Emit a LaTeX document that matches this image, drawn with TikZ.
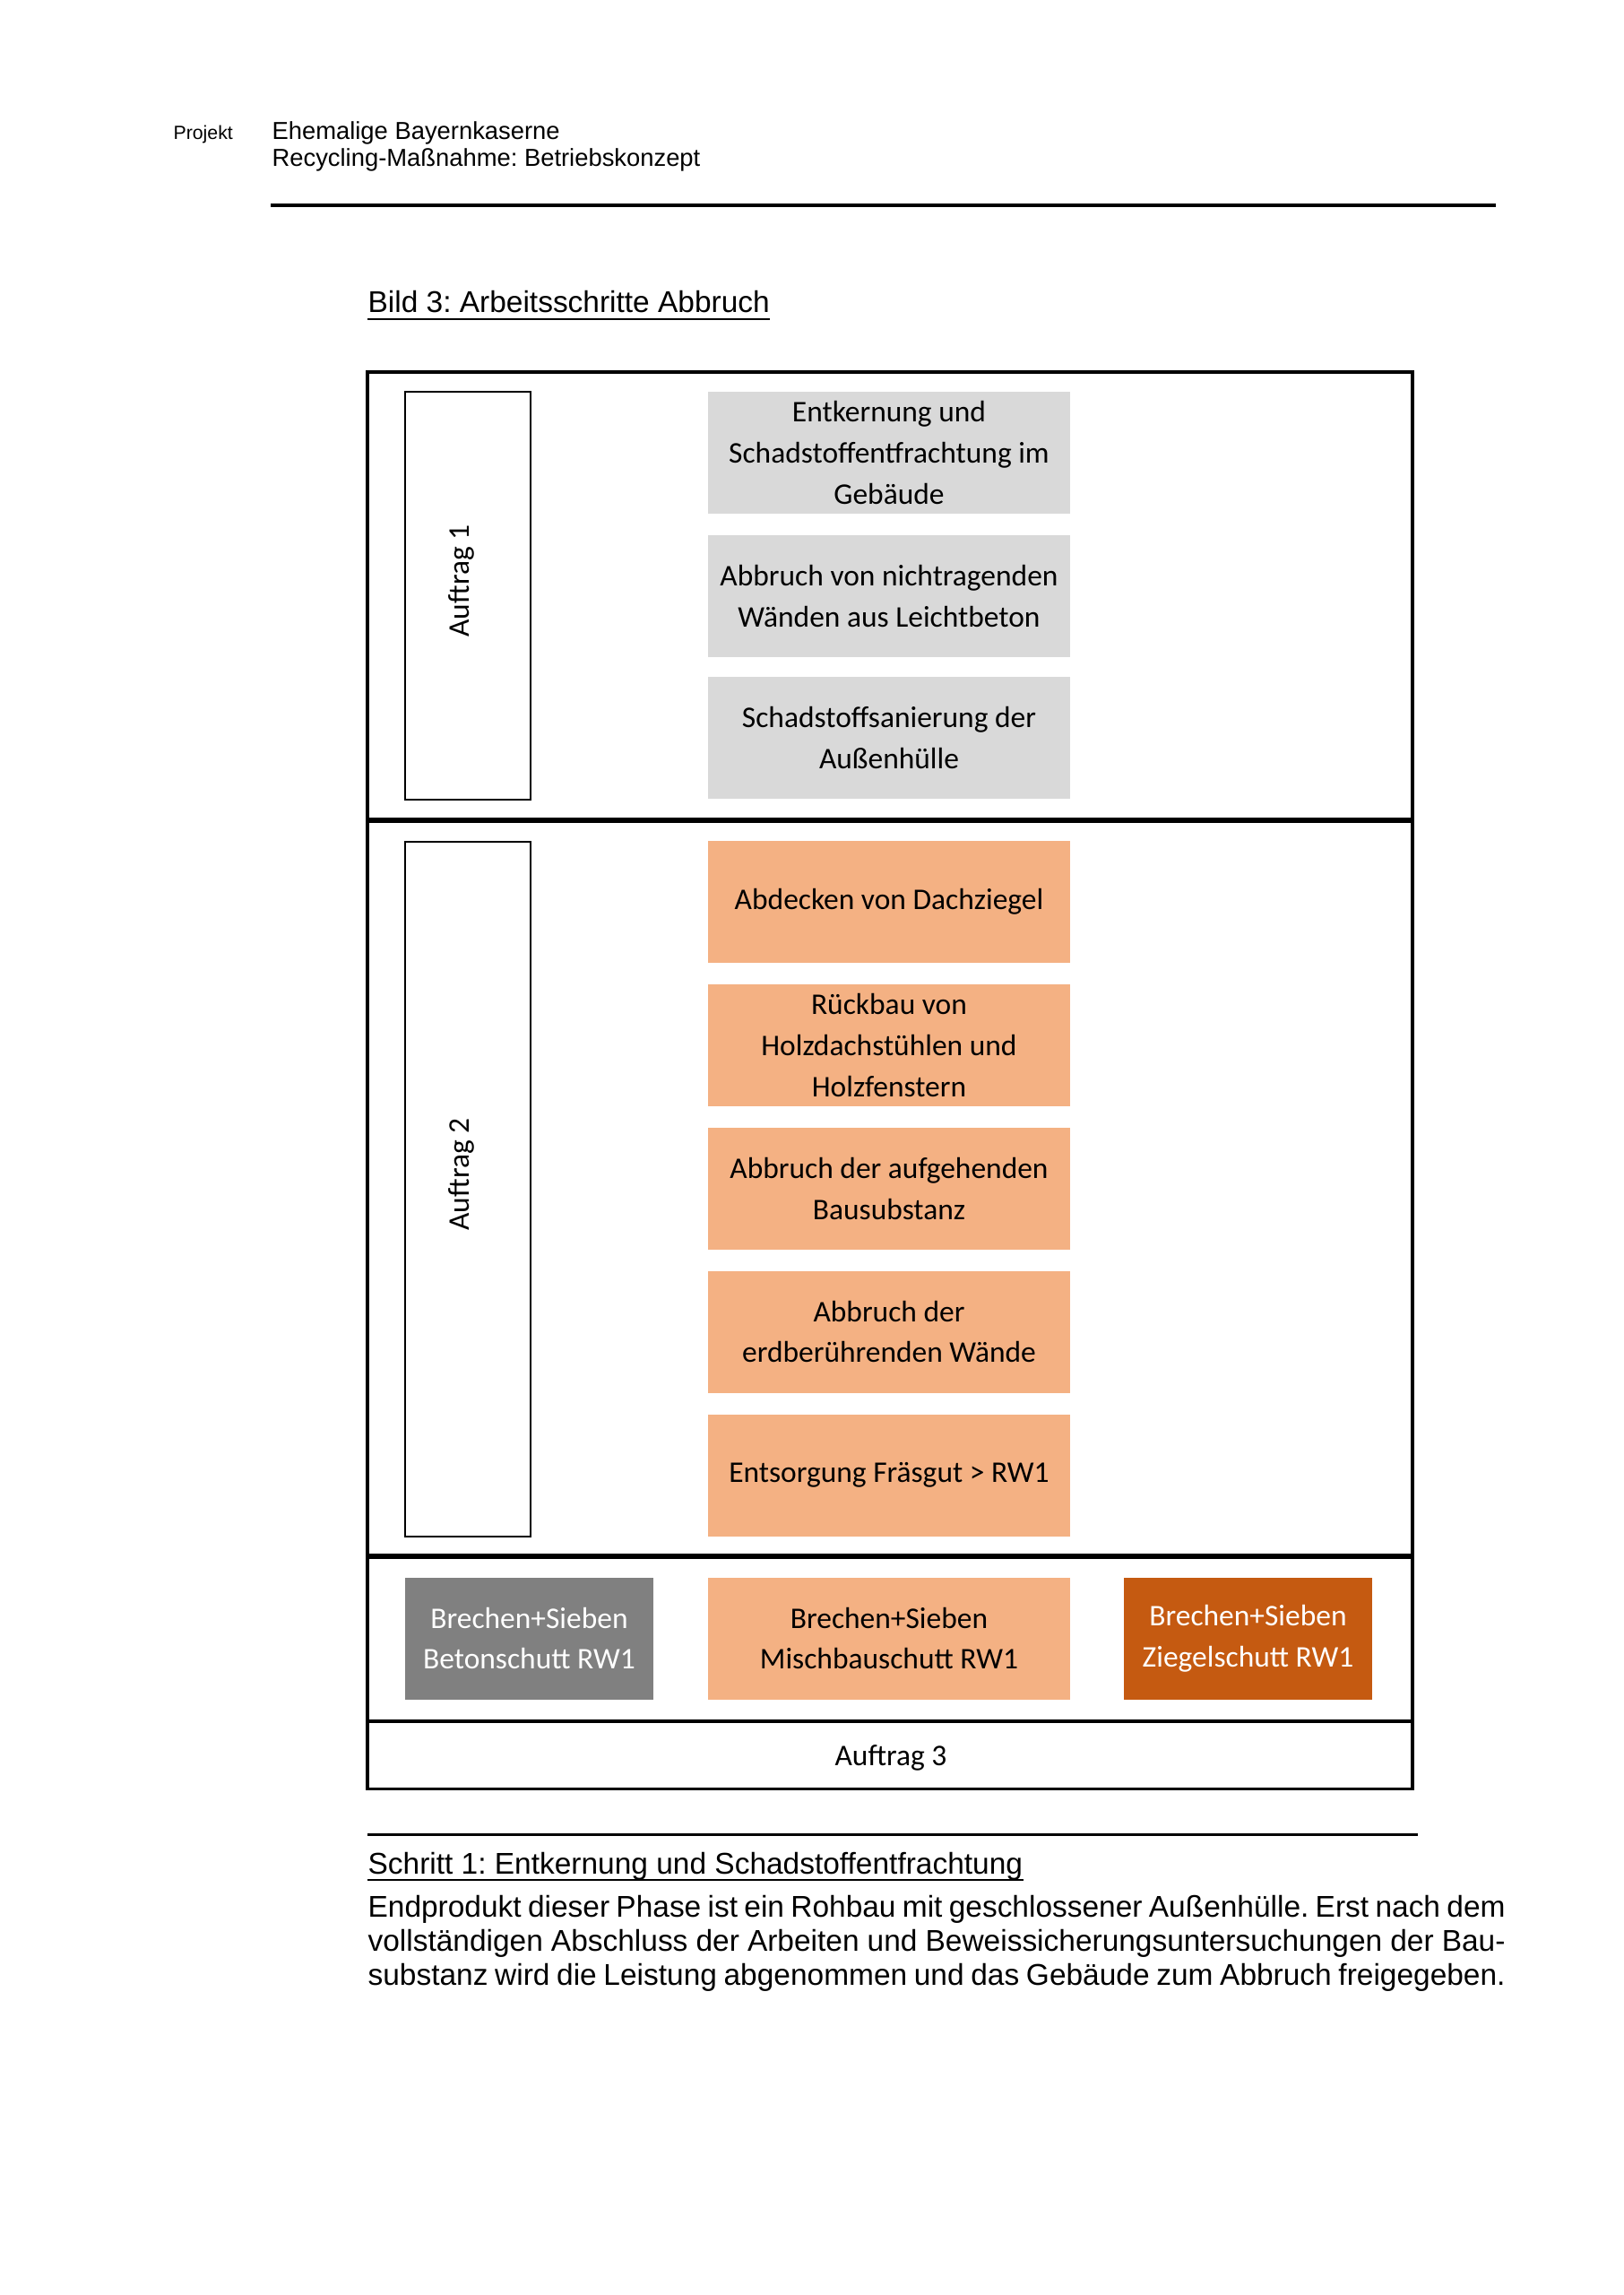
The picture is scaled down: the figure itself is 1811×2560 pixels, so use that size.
\documentclass[tikz,border=0pt]{standalone}
\usepackage{fontspec}
\setmainfont{Liberation Sans}
\newfontfamily\calibrifont{Carlito}
\definecolor{lgray}{HTML}{D9D9D9}
\definecolor{lorange}{HTML}{F4B183}
\definecolor{dgray}{HTML}{808080}
\definecolor{dorange}{HTML}{C55A11}
\frenchspacing
\begin{document}
\begin{tikzpicture}[x=0.32873pt,y=-0.32873pt,
  stepbox/.style={inner sep=0pt,minimum width=132.8pt,minimum height=44.7pt,align=center,
     font=\calibrifont\fontsize{11}{15}\selectfont},
  graybox/.style={stepbox,fill=lgray},
  orangebox/.style={stepbox,fill=lorange},
  smallbox/.style={stepbox,minimum width=91.3pt},
  auftragbox/.style={draw,line width=0.9pt,inner sep=0pt,minimum width=46pt},
  vlabel/.style={rotate=90,font=\calibrifont\fontsize{11}{13}\selectfont,inner sep=0pt},
  bodyline/.style={anchor=base west,inner sep=0pt,font=\fontsize{11}{12.5}\selectfont}
]
\useasboundingbox (0,0) rectangle (1811,2560);
% header
\node[anchor=base west,inner sep=0pt,font=\fontsize{7}{8}\selectfont] (proj) at (193,155) {Projekt};
\node[anchor=base west,inner sep=0pt,font=\fontsize{9}{10}\selectfont] (h1) at (303,155) {Ehemalige Bayernkaserne};
\node[anchor=base west,inner sep=0pt,font=\fontsize{9}{10}\selectfont] (h2) at (303,185) {Recycling-Maßnahme: Betriebskonzept};
\coordinate (rl) at (302,229);
\coordinate (rr) at (1669,229);
\draw[line width=1.2pt] (rl) -- (rr);
% title
\node[anchor=base west,inner sep=0pt,font=\fontsize{11}{13}\selectfont] (title) at (410,348) {Bild 3: Arbeitsschritte Abbruch};
\draw[line width=0.7pt] ([yshift=-2.6pt]title.base west) -- ([yshift=-2.6pt]title.base east);
% frame
\draw[line width=1pt] (410,415) rectangle (1576,1995);
\coordinate (d1l) at (410,915); \coordinate (d1r) at (1576,915);
\coordinate (d2l) at (410,1736); \coordinate (d2r) at (1576,1736);
\coordinate (d3l) at (410,1920); \coordinate (d3r) at (1576,1920);
\draw[line width=2pt] (d1l) -- (d1r);
\draw[line width=2pt] (d2l) -- (d2r);
\draw[line width=1.1pt] (d3l) -- (d3r);
% Auftrag boxes
\node[auftragbox,minimum height=149.6pt] (a1box) at (522,664.5) {};
\node[vlabel] (a1) at (515,648) {Auftrag 1};
\node[auftragbox,minimum height=254.8pt] (a2box) at (522,1326.5) {};
\node[vlabel] (a2) at (515,1310) {Auftrag 2};
% gray steps
\node[graybox] (g1) at (992,505) {Entkernung und\\Schadstoffentfrachtung im\\Gebäude};
\node[graybox] (g2) at (992,665) {Abbruch von nichtragenden\\Wänden aus Leichtbeton};
\node[graybox] (g3) at (992,823) {Schadstoffsanierung der\\Außenhülle};
% orange steps
\node[orangebox] (o1) at (992,1006) {Abdecken von Dachziegel};
\node[orangebox] (o2) at (992,1166) {Rückbau von\\Holzdachstühlen und\\Holzfenstern};
\node[orangebox] (o3) at (992,1326) {Abbruch der aufgehenden\\Bausubstanz};
\node[orangebox] (o4) at (992,1485.5) {Abbruch der\\erdberührenden Wände};
\node[orangebox] (o5) at (992,1645.5) {Entsorgung Fräsgut > RW1};
% bottom row
\node[smallbox,fill=dgray,text=white] (b1) at (590.5,1827.5) {Brechen+Sieben\\Betonschutt RW1};
\node[orangebox] (b2) at (992,1827.5) {Brechen+Sieben\\Mischbauschutt RW1};
\node[smallbox,fill=dorange,text=white] (b3) at (1392.5,1827.5) {Brechen+Sieben\\Ziegelschutt RW1};
\node[inner sep=0pt,font=\calibrifont\fontsize{11}{13}\selectfont] (a3) at (994,1961) {Auftrag 3};
% lower text
\coordinate (bl) at (410,2046);
\coordinate (br) at (1582,2046);
\draw[line width=1pt] (bl) -- (br);
\node[anchor=base west,inner sep=0pt,font=\fontsize{11}{13}\selectfont] (s1) at (410,2090) {Schritt 1: Entkernung und Schadstoffentfrachtung};
\draw[line width=0.7pt] ([yshift=-2.4pt]s1.base west) -- ([yshift=-2.4pt]s1.base east);
\node[bodyline] (t1) at (410,2138) {\makebox[417.2pt][s]{Endprodukt dieser Phase ist ein Rohbau mit geschlossener Außenhülle. Erst nach dem}};
\node[bodyline] (t2) at (410,2176) {\makebox[417.2pt][s]{vollständigen Abschluss der Arbeiten und Beweissicherungsuntersuchungen der Bau-}};
\node[bodyline] (t3) at (410,2214) {\makebox[417.2pt][s]{substanz wird die Leistung abgenommen und das Gebäude zum Abbruch freigegeben.}};
\end{tikzpicture}
\end{document}
